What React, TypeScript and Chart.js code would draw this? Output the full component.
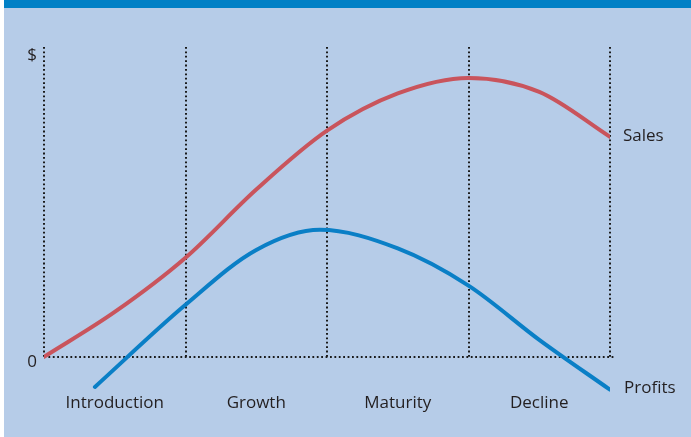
import React, { useEffect, useRef } from "react";
import { Chart, registerables } from "chart.js";

Chart.register(...registerables);

const stages = ["Introduction", "Growth", "Maturity", "Decline"];
const salesX = [0, 0.5, 1, 1.5, 2, 2.5, 3, 3.5, 4];
const salesY = [0, 14.5, 32, 54, 73, 85, 90, 85.5, 71];
const profitsX = [0.36, 1, 1.5, 1.95, 2.5, 3, 3.5, 4];
const profitsY = [-9.7, 16.8, 34.5, 41, 35, 23, 5.5, -10.6];
const yTop = 100;
const yBottom = -19.4;

const FONT = '"Open Sans", "Noto Sans", sans-serif';

const overlay = {
  id: "plcOverlay",
  beforeDatasetsDraw(chart: any) {
    const { ctx, scales } = chart;
    const x = scales.x;
    const y = scales.y;
    const y0 = y.getPixelForValue(0);
    const yT = y.getPixelForValue(yTop);
    ctx.save();
    ctx.strokeStyle = "#1a1a1a";
    ctx.lineWidth = 2;
    ctx.setLineDash([1.8, 2.6]);
    for (let i = 0; i <= stages.length; i++) {
      const px = Math.round(x.getPixelForValue(i));
      ctx.beginPath();
      ctx.moveTo(px, yT);
      ctx.lineTo(px, y0);
      ctx.stroke();
    }
    ctx.beginPath();
    ctx.moveTo(x.getPixelForValue(0), Math.round(y0));
    ctx.lineTo(x.getPixelForValue(4) + 4, Math.round(y0));
    ctx.stroke();
    ctx.restore();
  },
  afterDatasetsDraw(chart: any) {
    const { ctx, scales } = chart;
    const x = scales.x;
    const y = scales.y;
    ctx.save();
    ctx.fillStyle = "#231f20";
    ctx.font = `17px ${FONT}`;
    ctx.textBaseline = "middle";
    ctx.textAlign = "center";
    stages.forEach((s, i) => {
      ctx.fillText(s, x.getPixelForValue(i + 0.5), 403);
    });
    ctx.textAlign = "left";
    const xe = x.getPixelForValue(4);
    ctx.fillText("Sales", xe + 13, y.getPixelForValue(salesY[salesY.length - 1]) - 1);
    ctx.fillText("Profits", xe + 14, y.getPixelForValue(profitsY[profitsY.length - 1]) - 2);
    ctx.textAlign = "right";
    ctx.fillText("$", x.getPixelForValue(0) - 7, 55);
    ctx.fillText("0", x.getPixelForValue(0) - 7, y.getPixelForValue(0) + 5);
    ctx.restore();
  },
};

export default function App() {
  const ref = useRef<HTMLCanvasElement>(null);
  useEffect(() => {
    const chart = new Chart(ref.current!, {
      type: "line",
      data: {
        datasets: [
          {
            label: "Sales",
            data: salesX.map((v, i) => ({ x: v, y: salesY[i] })),
            borderColor: "#c9545c",
            borderWidth: 4,
            pointRadius: 0,
            cubicInterpolationMode: "monotone",
            borderCapStyle: "round",
          },
          {
            label: "Profits",
            data: profitsX.map((v, i) => ({ x: v, y: profitsY[i] })),
            borderColor: "#0a7fc6",
            borderWidth: 4,
            pointRadius: 0,
            cubicInterpolationMode: "monotone",
            borderCapStyle: "round",
          },
        ],
      },
      options: {
        animation: false,
        responsive: false,
        maintainAspectRatio: false,
        layout: { padding: { left: 44, right: 81, top: 47, bottom: 20 } },
        plugins: { legend: { display: false }, tooltip: { enabled: false } },
        scales: {
          x: { type: "linear", min: 0, max: 4, display: false },
          y: { type: "linear", min: yBottom, max: yTop, display: false },
        },
      },
      plugins: [overlay],
    });
    return () => chart.destroy();
  }, []);
  return (
    <div style={{ position: "fixed", left: 0, top: 0, width: 691, height: 437, background: "#ffffff" }}>
      <div style={{ position: "absolute", left: 4, top: 0, right: 0, bottom: 0, background: "#b6cce8" }} />
      <div style={{ position: "absolute", left: 4, top: 0, right: 0, height: 8, background: "#0080c6" }} />
      <canvas ref={ref} width={691} height={437} style={{ position: "absolute", left: 0, top: 0, width: 691, height: 437 }} />
    </div>
  );
}
